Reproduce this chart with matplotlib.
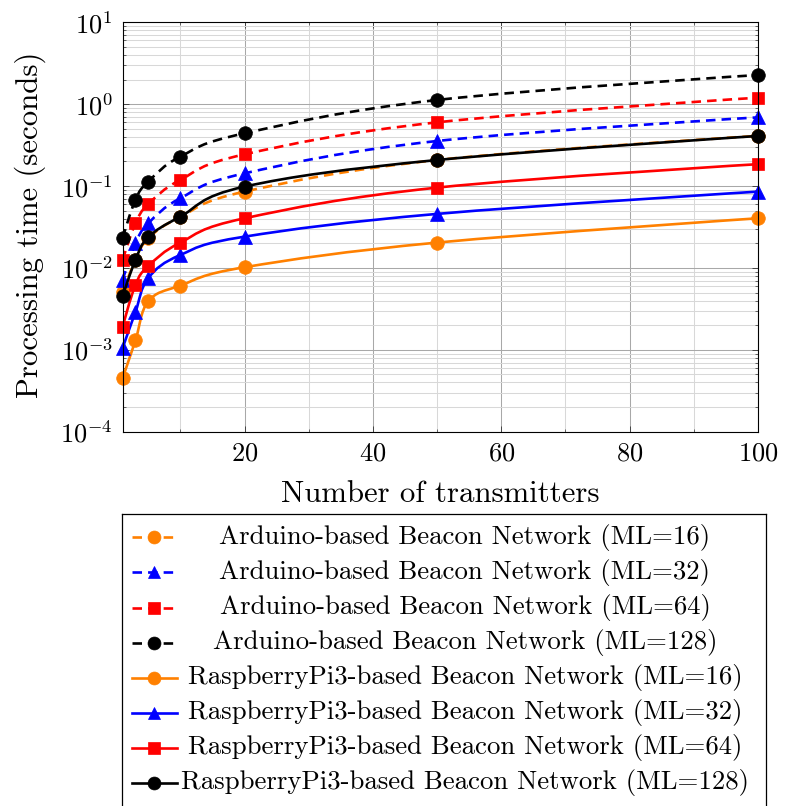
import numpy as np
import matplotlib
matplotlib.use("Agg")
import matplotlib.pyplot as plt
from matplotlib.path import Path
from matplotlib.patches import PathPatch
from matplotlib.ticker import FixedLocator, LogLocator, NullFormatter

plt.rcParams["font.family"] = ["cmr10", "DejaVu Serif"]
plt.rcParams["mathtext.fontset"] = "cm"
plt.rcParams["axes.formatter.use_mathtext"] = True

# ---- data -------------------------------------------------------------
transmitters = [1, 3, 5, 10, 20, 50, 100]

arduino_ml16 = [0.0051, 0.0125, 0.023, 0.042, 0.0855, 0.208, 0.41]
arduino_ml32 = [0.0071, 0.020, 0.035, 0.071, 0.143, 0.355, 0.69]
arduino_ml64 = [0.0125, 0.035, 0.060, 0.119, 0.244, 0.60, 1.20]
arduino_ml128 = [0.023, 0.068, 0.113, 0.229, 0.441, 1.125, 2.27]
pi_ml16 = [0.00045, 0.0013, 0.0039, 0.0061, 0.0102, 0.0204, 0.0404]
pi_ml32 = [0.00105, 0.0029, 0.0075, 0.0144, 0.0241, 0.0457, 0.0855]
pi_ml64 = [0.0019, 0.0062, 0.0105, 0.0204, 0.0404, 0.0957, 0.185]
pi_ml128 = [0.0045, 0.0125, 0.0237, 0.0423, 0.0984, 0.208, 0.409]

labels = [
    "Arduino-based Beacon Network (ML=16)",
    "Arduino-based Beacon Network (ML=32)",
    "Arduino-based Beacon Network (ML=64)",
    "Arduino-based Beacon Network (ML=128)",
    "RaspberryPi3-based Beacon Network (ML=16)",
    "RaspberryPi3-based Beacon Network (ML=32)",
    "RaspberryPi3-based Beacon Network (ML=64)",
    "RaspberryPi3-based Beacon Network (ML=128)",
]
series = [arduino_ml16, arduino_ml32, arduino_ml64, arduino_ml128,
          pi_ml16, pi_ml32, pi_ml64, pi_ml128]

ORANGE, BLUE, RED, BLACK = "#ff8000", "#0000ff", "#ff0000", "#000000"
colors = [ORANGE, BLUE, RED, BLACK] * 2
markers = ["o", "^", "s", "o"] * 2
msizes = {"o": 9.8, "^": 9.8, "s": 9.2}
DASH = (0, (3.6, 2.3))
styles = [DASH] * 4 + ["-"] * 4
LW = 1.9

# ---- figure / axes ----------------------------------------------------
W_PX, H_PX = 785, 806
fig = plt.figure(figsize=(W_PX / 100, H_PX / 100), dpi=100)

ax_l, ax_r, ax_t, ax_b = 122.6, 758.0, 22.3, 431.7
ax = fig.add_axes([ax_l / W_PX, 1 - ax_b / H_PX,
                   (ax_r - ax_l) / W_PX, (ax_b - ax_t) / H_PX])
ax.set_yscale("log")
ax.set_xlim(1, 100)
ax.set_ylim(1e-4, 1e1)

ax.xaxis.set_major_locator(FixedLocator([20, 40, 60, 80, 100]))
ax.xaxis.set_minor_locator(FixedLocator([10, 30, 50, 70, 90]))
ax.yaxis.set_major_locator(LogLocator(base=10, numticks=20))
ax.yaxis.set_minor_locator(LogLocator(base=10, subs=np.arange(2, 10), numticks=100))
ax.yaxis.set_minor_formatter(NullFormatter())

ax.grid(True, which="major", color="#a8a8a8", lw=0.75)
ax.grid(True, which="minor", color="#d8d8d8", lw=0.75)
ax.set_axisbelow(True)
ax.tick_params(which="both", direction="in", top=True, right=True,
               color="#333333", labelsize=19, pad=7)
ax.tick_params(which="major", length=4.5, width=0.6)
ax.tick_params(which="minor", length=2.5, width=0.5)
for sp in ax.spines.values():
    sp.set_linewidth(0.8)
    sp.set_zorder(10)


def smooth_path(ax, xs, ys, tension=0.55):
    """TikZ-style smooth curve, computed in the axes' canvas space."""
    x0, x1 = ax.get_xlim()
    ly0, ly1 = np.log10(ax.get_ylim())
    bb = ax.get_window_extent()
    w, h = bb.width, bb.height
    u = (np.asarray(xs, float) - x0) / (x1 - x0) * w
    v = (np.log10(ys) - ly0) / (ly1 - ly0) * h
    P = np.column_stack([u, v])
    n = len(P)
    s = tension / 3
    verts, codes = [P[0]], [Path.MOVETO]
    for i in range(n - 1):
        c1 = P[i] + s * (P[i + 1] - P[i - 1]) if i > 0 else P[i]
        c2 = P[i + 1] - s * (P[i + 2] - P[i]) if i + 2 < n else P[i + 1]
        verts += [c1, c2, P[i + 1]]
        codes += [Path.CURVE4] * 3
    V = np.array(verts)
    dx = x0 + V[:, 0] / w * (x1 - x0)
    dy = 10 ** (ly0 + V[:, 1] / h * (ly1 - ly0))
    return Path(np.column_stack([dx, dy]), codes)


for k, (ys, c, m, ls) in enumerate(zip(series, colors, markers, styles)):
    z = 3 + k * 0.1
    ax.add_patch(PathPatch(smooth_path(ax, transmitters, ys), fill=False,
                           edgecolor=c, lw=LW, linestyle=ls, zorder=z,
                           joinstyle="round", capstyle="butt"))
    ax.plot(transmitters, ys, linestyle="none", marker=m, ms=msizes[m],
            color=c, mec=c, mew=0.5, zorder=z + 0.05, clip_on=False)

fig.text(440.3 / W_PX, 1 - 494 / H_PX, "Number of transmitters",
         ha="center", va="center", fontsize=22.2)
fig.text(30 / W_PX, 1 - 225 / H_PX, "Processing time (seconds)",
         ha="center", va="center", rotation=90, fontsize=22.2)

# ---- legend box (pixel coordinates, y downward) -----------------------
lg_l, lg_r, lg_t, lg_b = 121.7, 766.0, 514.0, 815.0
lax = fig.add_axes([lg_l / W_PX, 1 - lg_b / H_PX,
                    (lg_r - lg_l) / W_PX, (lg_b - lg_t) / H_PX])
lax.set_xlim(lg_l, lg_r)
lax.set_ylim(lg_b, lg_t)
lax.set_xticks([])
lax.set_yticks([])
for sp in lax.spines.values():
    sp.set_linewidth(0.9)

row0, row_step = 537.3, 35.1
for k, (lab, c, m, ls) in enumerate(zip(labels, colors, markers, styles)):
    yy = row0 + k * row_step
    lax.plot([131.5, 176.5], [yy, yy], color=c, lw=LW, linestyle=ls)
    lax.plot([153.5], [yy], linestyle="none", marker=m, ms=msizes[m] * 0.95,
             color=c, mec=c, mew=0.5)
    lax.text(465, yy, lab, ha="center", va="center", fontsize=19.3)

fig.savefig("out.png", dpi=100)
